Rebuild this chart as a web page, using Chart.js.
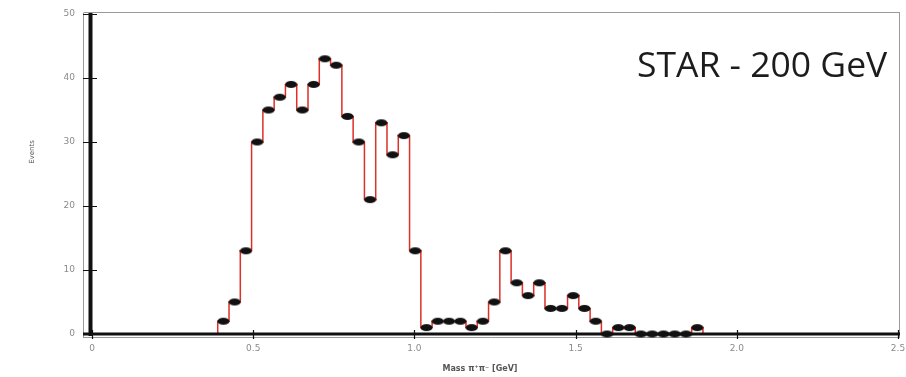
<!DOCTYPE html>
<html lang="en">
<head>
    <meta charset="UTF-8">
    <title>STAR - 200 GeV</title>
    <script src="https://cdn.jsdelivr.net/npm/chart.js"></script>
    <style>
        body {
            margin: 0;
            background: #fff;
        }
        .chart-container {
            width: 906px;
            height: 377px;
        }
    </style>
</head>
<body>

    <div class="chart-container">
        <canvas id="massChart"></canvas>
    </div>

    <script>
        // Histogram: pi+pi- invariant mass, 0.035 GeV bins from 0.39 GeV
        const binStart = 0.39;
        const binWidth = 0.035;
        const counts = [
            2, 5, 13, 30, 35, 37, 39, 35, 39, 43,
            42, 34, 30, 21, 33, 28, 31, 13, 1, 2,
            2, 2, 1, 2, 5, 13, 8, 6, 8, 4,
            4, 6, 4, 2, 0, 1, 1, 0, 0, 0,
            0, 0, 1
        ];
        const xTicks = [0, 0.5, 1.0, 1.5, 2.0, 2.5];
        const yTicks = [0, 10, 20, 30, 40, 50];
        const xTitle = "Mass \u03c0\u207a\u03c0\u207b [GeV]";
        const yTitle = "Events";
        const label = "STAR - 200 GeV";

        const centers = counts.map((_, i) => binStart + binWidth * (i + 0.5));
        const points = counts.map((c, i) => ({ x: centers[i], y: c }));

        // step outline: pad with empty bins so the edges drop to zero
        const outline = [{ x: binStart - binWidth / 2, y: 0 }]
            .concat(points)
            .concat([{ x: binStart + binWidth * (counts.length + 0.5), y: 0 }]);

        // black oval marker
        const marker = document.createElement("canvas");
        marker.width = 13;
        marker.height = 9;
        const mctx = marker.getContext("2d");
        mctx.fillStyle = "#111";
        mctx.beginPath();
        mctx.ellipse(6.5, 4.5, 6, 3.6, 0, 0, Math.PI * 2);
        mctx.fill();

        const frame = {
            id: "frame",
            // axes go between the red outline and the markers
            afterDatasetDraw(chart, args) {
                if (args.index !== 1) return;
                const ctx = chart.ctx;
                const a = chart.chartArea;
                const xs = chart.scales.x;
                const ys = chart.scales.y;
                ctx.save();
                ctx.strokeStyle = "#9a9a9a";
                ctx.lineWidth = 1;
                ctx.beginPath();
                ctx.moveTo(83.5, a.top - 1.5);
                ctx.lineTo(900, a.top - 1.5);
                ctx.moveTo(899.5, a.top - 1);
                ctx.lineTo(899.5, a.bottom + 3);
                ctx.moveTo(83.5, a.top - 1);
                ctx.lineTo(83.5, a.bottom + 4);
                ctx.moveTo(83, a.bottom + 3.5);
                ctx.lineTo(900, a.bottom + 3.5);
                ctx.stroke();

                ctx.strokeStyle = "#111";
                ctx.lineWidth = 4;
                ctx.beginPath();
                ctx.moveTo(a.left - 1.5, a.top - 1);
                ctx.lineTo(a.left - 1.5, a.bottom + 2);
                ctx.stroke();
                ctx.lineWidth = 3;
                ctx.beginPath();
                ctx.moveTo(83, a.bottom);
                ctx.lineTo(900, a.bottom);
                ctx.stroke();

                ctx.lineWidth = 1.2;
                ctx.beginPath();
                xTicks.forEach(v => {
                    const px = Math.round(xs.getPixelForValue(v)) + 0.5;
                    ctx.moveTo(px, a.bottom - 4);
                    ctx.lineTo(px, a.bottom + 5);
                });
                yTicks.forEach(v => {
                    const py = Math.round(ys.getPixelForValue(v)) + 0.5;
                    ctx.moveTo(83, py);
                    ctx.lineTo(97, py);
                });
                ctx.stroke();
                ctx.restore();
            },
            afterDraw(chart) {
                const ctx = chart.ctx;
                ctx.save();
                ctx.fillStyle = "#1c1c1c";
                ctx.font = "35.5px 'Open Sans'";
                ctx.textBaseline = "alphabetic";
                ctx.fillText(label, 637, 77);

                ctx.fillStyle = "#555";
                ctx.font = "bold 8px 'DejaVu Sans'";
                ctx.textAlign = "center";
                ctx.fillText(xTitle, 480, 371);

                ctx.translate(31, 152);
                ctx.rotate(-Math.PI / 2);
                ctx.font = "7px 'DejaVu Sans'";
                ctx.fillText(yTitle, 0, 3);
                ctx.restore();
            }
        };

        const tickFont = { family: "'DejaVu Sans'", size: 9 };

        const ctx = document.getElementById("massChart").getContext("2d");
        new Chart(ctx, {
            type: "scatter",
            data: {
                datasets: [
                    {
                        data: points,
                        showLine: false,
                        pointStyle: marker,
                        pointRadius: 6,
                        clip: false
                    },
                    {
                        data: outline,
                        showLine: true,
                        stepped: "middle",
                        borderColor: "#dc3028",
                        borderWidth: 1.5,
                        pointRadius: 0,
                        clip: false
                    }
                ]
            },
            options: {
                responsive: true,
                maintainAspectRatio: false,
                animation: false,
                layout: { padding: { left: 0, right: 8, top: 14, bottom: 0 } },
                plugins: {
                    legend: { display: false },
                    tooltip: { enabled: false }
                },
                scales: {
                    x: {
                        type: "linear",
                        min: 0,
                        max: 2.5,
                        afterBuildTicks: s => { s.ticks = xTicks.map(v => ({ value: v })); },
                        afterFit: s => {
                            s.height = 43;
                            s.paddingLeft = 0;
                            s.paddingRight = 0;
                        },
                        grid: { display: false, drawTicks: false },
                        border: { display: false },
                        ticks: {
                            padding: 9,
                            color: "#8a8a8a",
                            font: tickFont,
                            maxRotation: 0,
                            callback: v => v === 0 ? "0" : v.toFixed(1)
                        }
                    },
                    y: {
                        min: 0,
                        max: 50,
                        afterBuildTicks: s => { s.ticks = yTicks.map(v => ({ value: v })); },
                        afterFit: s => {
                            s.width = 92;
                            s.paddingTop = 0;
                            s.paddingBottom = 0;
                        },
                        grid: { display: false, drawTicks: false },
                        border: { display: false },
                        ticks: {
                            padding: 17,
                            color: "#8a8a8a",
                            font: tickFont
                        }
                    }
                }
            },
            plugins: [frame]
        });
    </script>

</body>
</html>
